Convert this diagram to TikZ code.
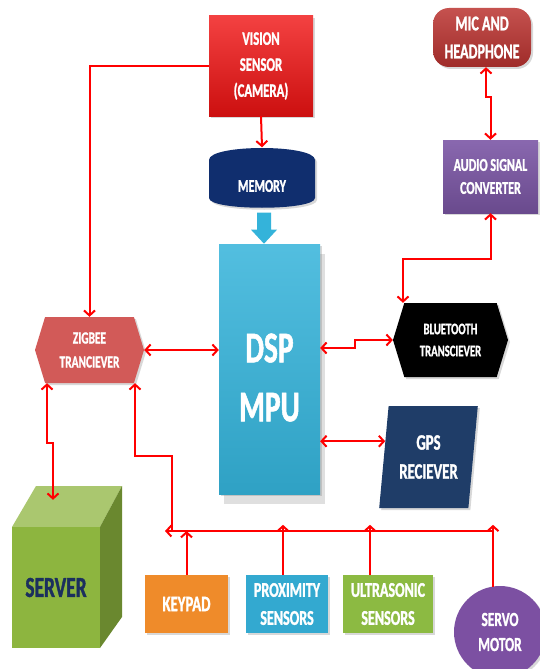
\documentclass[tikz,border=0pt]{standalone}
\usepackage{fontspec}
\newfontfamily\boxfont{Carlito}[FakeStretch=0.67, BoldFont={Carlito Bold}, BoldFeatures={FakeBold=1.2}]
\usepackage{tikz}
\usetikzlibrary{calc}
\usetikzlibrary{arrows.meta}
\usetikzlibrary{shapes.geometric}
\usetikzlibrary{shapes.symbols}
\usetikzlibrary{shadows}

\definecolor{linkred}{HTML}{FF0000}
\definecolor{visred}{HTML}{F01212}
\definecolor{memblue}{HTML}{102E6E}
\definecolor{dspcyan}{HTML}{34B3DA}
\definecolor{micred}{HTML}{BB3330}
\definecolor{audpurple}{HTML}{7C57A6}
\definecolor{zigred}{HTML}{D25A58}
\definecolor{gpsblue}{HTML}{1F3D68}
\definecolor{srvgreen}{HTML}{8DB53F}
\definecolor{srvnavy}{HTML}{1B2F5E}
\definecolor{keyorange}{HTML}{EF8B2A}
\definecolor{proxblue}{HTML}{33A9D0}
\definecolor{ultgreen}{HTML}{8CBA42}
\definecolor{servopurple}{HTML}{7C50A2}

\begin{document}
\begin{tikzpicture}[x=1pt, y=-1pt,
  box/.style={inner sep=0pt, align=center, text=white,
    drop shadow={shadow xshift=2pt, shadow yshift=-2pt, opacity=.3}},
  sz/.style 2 args={font=\boxfont\bfseries\fontsize{#1}{#2}\selectfont},
  link/.style={draw=linkred, line width=2pt},
  >={Straight Barb[length=5pt, width=11pt]}]
\path[use as bounding box, fill=white] (0,0) rectangle (540,669);
\clip (0,0) rectangle (540,669);

% top row
\node[box, sz={19}{26}, minimum width=104, minimum height=100,
  top color=visred!80!white, bottom color=visred!85!black] (vision) at (261,66) {VISION\\SENSOR\\(CAMERA)};
\node[box, sz={21}{28}, minimum width=98, minimum height=59, rounded corners=16pt,
  top color=micred!85!white, bottom color=micred!85!black] (mic) at (482,37.5) {MIC AND\\HEADPHONE};
\node[box, sz={18}{23}, minimum width=95, minimum height=73,
  top color=audpurple!90!white, bottom color=audpurple!85!black] (aud) at (490.5,176.5) {AUDIO SIGNAL\\CONVERTER};

% memory
\fill[memblue, drop shadow={shadow xshift=2pt, shadow yshift=-2pt, opacity=.3}]
  (209,160) .. controls (209,144) and (315,144) .. (315,160) -- (315,198)
  .. controls (315,211) and (209,211) .. (209,198) -- cycle;
\node[minimum width=106, minimum height=61, inner sep=0pt] (mem) at (262,178) {};
\node[sz={18}{22}, text=white] (memlbl) at ($(mem.center)+(0,8)$) {MEMORY};

% processor
\node[box, sz={44}{59}, minimum width=101, minimum height=250,
  top color=dspcyan!85!white, bottom color=dspcyan!90!black,
  drop shadow={shadow xshift=5pt, shadow yshift=-10pt, opacity=.25}] (dsp) at (269.5,369) {\rule{0pt}{46pt}DSP\\MPU};
\fill[dspcyan, shift={(mem.south)}] (-5,4) -- (9,4) -- (9,21) -- (15,21) -- (2,35) -- (-11,21) -- (-5,21) -- cycle;

% radios
\node[box, sz={17}{24}, shape=signal, signal to=west and east, signal pointer angle=146,
  minimum width=109, minimum height=66, fill=zigred] (zig) at (89.5,350) {ZIGBEE\\TRANCIEVER};
\node[box, sz={16}{22}, shape=signal, signal to=west and east, signal pointer angle=146,
  minimum width=115, minimum height=74, fill=black] (bt) at (450.5,340) {BLUETOOTH\\TRANSCIEVER};
\node[box, sz={22}{29}, trapezium, trapezium left angle=81, trapezium right angle=99,
  trapezium stretches=true, minimum width=99, minimum height=102, fill=gpsblue] (gps) at (428.5,457) {GPS\\RECIEVER};

% server
\fill[srvgreen!75!white] (12,527) -- (36,486) -- (122,486) -- (100,527) -- cycle;
\fill[srvgreen!75!black] (100,527) -- (122,486) -- (122,617) -- (100,648) -- cycle;
\node[sz={29}{30}, text=srvnavy, minimum width=88, minimum height=121, fill=srvgreen] (server) at (56,587.5) {SERVER};
\coordinate (srvtop) at ($(server.north)+(-3,-27)$);

% inputs
\node[box, sz={22}{28}, minimum width=83, minimum height=58, fill=keyorange] (kp) at (186.5,604) {KEYPAD};
\node[box, sz={21}{28}, minimum width=82, minimum height=58, fill=proxblue] (px) at (287,604) {PROXIMITY\\SENSORS};
\node[box, sz={21}{28}, minimum width=90, minimum height=58, fill=ultgreen] (us) at (388,604) {ULTRASONIC\\SENSORS};
\node[box, sz={20}{25}, circle, minimum size=92, fill=servopurple] (servo) at (500,632) {SERVO\\MOTOR};

\coordinate (busL) at (165,531);
\coordinate (busR) at (493,531);

% links
\draw[link,->] (vision.south) -- (mem.north);
\draw[link,->] (vision.west) -| (zig.north);
\draw[link,<->] (zig.east) -- (zig.east -| dsp.west);
\draw[link,<->] ($(dsp.east)+(0,-21)$) -- ++(35,0) |- (bt.west);
\draw[link,<->] (dsp.east |- gps.160) -- (gps.160);
\draw[link,<->] ($(mic.south)+(4,0)$) -- ++(0,30) -| (aud.north);
\draw[link,<->] (aud.south) -- ++(0,46) -| ($(bt.north)+(-47.5,0)$);
\draw[link,<->] ($(zig.south)+(-42.5,0)$) -- ++(0,60) -| (srvtop);
\draw[link,->] ($(busL)+(7,0)$) -- ++(0,-75) -| ($(zig.south)+(45.5,0)$);
\draw[link,->] (busR) -- (busL);
\draw[link,->] (kp.north) -- (kp.north |- busL);
\draw[link,->] ($(px.north)+(-4,0)$) -- ++(0,-50);
\draw[link,->] ($(us.north)+(-18,0)$) -- ++(0,-50);
\draw[link,->] ($(servo.north)+(-7,1)$) -- ++(0,-62);

\end{tikzpicture}
\end{document}
